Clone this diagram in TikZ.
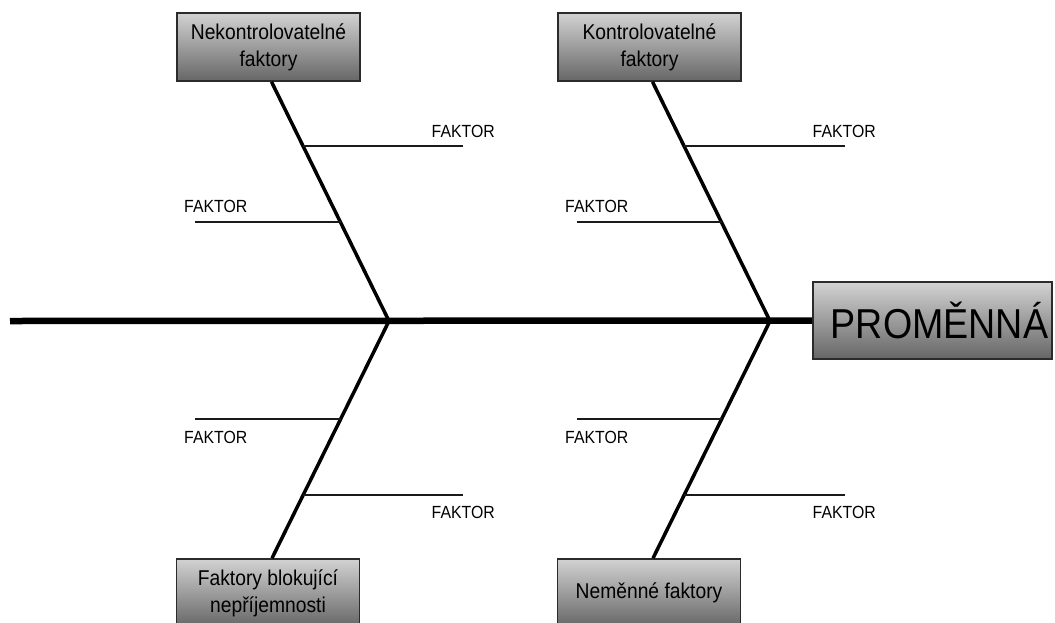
\documentclass[tikz,border=0pt]{standalone}
\usepackage{fontspec}
\setmainfont{Liberation Sans}[FakeStretch=0.9]
\usetikzlibrary{calc}
\definecolor{boxline}{HTML}{2B2B2B}
\definecolor{boxtop}{HTML}{D2D2D2}
\definecolor{boxbot}{HTML}{666666}
\definecolor{twigcol}{HTML}{1A1A1A}
\begin{document}
\begin{tikzpicture}[x=1pt,y=-1pt,
  causebox/.style={draw=boxline, line width=1.6pt, top color=boxtop, bottom color=boxbot,
    minimum width=183pt, minimum height=68pt, inner sep=0pt, align=center,
    font=\fontsize{21.4}{27}\selectfont},
  spine/.style={line width=6.5pt},
  bone/.style={line width=3.5pt},
  twig/.style={line width=1.8pt, draw=twigcol},
  factor/.style={font=\fontsize{17.6}{19}\selectfont, inner sep=0pt}]
\useasboundingbox (0,0) rectangle (1055,622);
\clip (0,0) rectangle (1055,622);

% cause categories
\node[causebox] (tl) at (268.5,47) {Nekontrolovatelné\\faktory};
\node[causebox] (tr) at (649.5,47) {Kontrolovatelné\\faktory};
\node[causebox] (bl) at (268,593) {Faktory blokující\\nepříjemnosti};
\node[causebox] (br) at (649,593) {Neměnné faktory};

% effect
\node[causebox, minimum width=239pt, minimum height=77pt,
  font=\fontsize{41.8}{46}\selectfont] (eff) at (932.5,320.5) {\hspace*{14pt}PROMĚNNÁ};

% spine
\coordinate (tail) at (10,321);
\coordinate (hl) at (389,321);
\coordinate (hr) at (770,321);
\draw[spine] (tail) -- (eff.west);

% main bones
\draw[bone] ($(tl.south)+(3,0)$) coordinate (tlb) -- (hl);
\draw[bone] ($(tr.south)+(3,0)$) coordinate (trb) -- (hr);
\draw[bone] (hl) -- ($(bl.north)+(4,0)$) coordinate (blb);
\draw[bone] (hr) -- ($(br.north)+(4,0)$) coordinate (brb);

% points on the bones where the factors join
\coordinate (a1) at ($(tlb)!0.267!(hl)$);
\coordinate (a2) at ($(tlb)!0.5875!(hl)$);
\coordinate (b1) at ($(trb)!0.267!(hr)$);
\coordinate (b2) at ($(trb)!0.5875!(hr)$);
\coordinate (c1) at ($(hl)!0.412!(blb)$);
\coordinate (c2) at ($(hl)!0.735!(blb)$);
\coordinate (d1) at ($(hr)!0.412!(brb)$);
\coordinate (d2) at ($(hr)!0.735!(brb)$);

% free ends of the factor lines
\coordinate (ea1) at (463,0);
\coordinate (ea2) at (195,0);
\coordinate (eb1) at (845,0);
\coordinate (eb2) at (577,0);
\coordinate (ec1) at (195,0);
\coordinate (ec2) at (463,0);
\coordinate (ed1) at (577,0);
\coordinate (ed2) at (845,0);

\draw[twig] (a1) -- (a1 -| ea1);
\draw[twig] (a2) -- (a2 -| ea2);
\draw[twig] (b1) -- (b1 -| eb1);
\draw[twig] (b2) -- (b2 -| eb2);
\draw[twig] (c1) -- (c1 -| ec1);
\draw[twig] (c2) -- (c2 -| ec2);
\draw[twig] (d1) -- (d1 -| ed1);
\draw[twig] (d2) -- (d2 -| ed2);

% factor labels
\node[factor, anchor=base east] (la1) at (495,137) {FAKTOR};
\node[factor, anchor=base west] (la2) at (184,212) {FAKTOR};
\node[factor, anchor=base east] (lb1) at (876,137) {FAKTOR};
\node[factor, anchor=base west] (lb2) at (565,212) {FAKTOR};
\node[factor, anchor=base west] (lc1) at (184,443) {FAKTOR};
\node[factor, anchor=base east] (lc2) at (495,518) {FAKTOR};
\node[factor, anchor=base west] (ld1) at (565,443) {FAKTOR};
\node[factor, anchor=base east] (ld2) at (876,518) {FAKTOR};
\end{tikzpicture}
\end{document}
